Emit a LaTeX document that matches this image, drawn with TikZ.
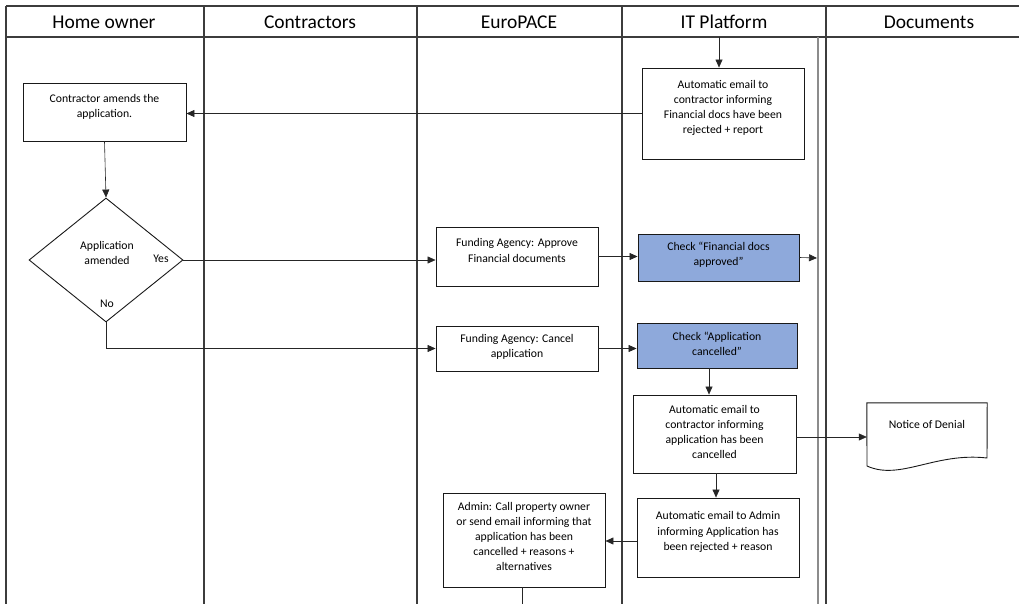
\documentclass[tikz,border=0pt]{standalone}
\usepackage{fontspec}
\setmainfont{Carlito}
\usetikzlibrary{arrows.meta,shapes.geometric}
\definecolor{chkblue}{RGB}{142,169,219}
\definecolor{laneline}{RGB}{60,60,60}

\begin{document}
\begin{tikzpicture}[x=1pt,y=-1pt,
  lane/.style={draw=laneline, line width=1.1pt},
  innerlane/.style={draw=black!45, line width=1.4pt},
  box/.style={draw=black!90, line width=0.9pt, fill=white, inner sep=0pt},
  chk/.style={box, fill=chkblue},
  docshape/.style={draw=black!90, line width=0.9pt},
  txt/.style={font=\fontsize{11.7}{15.2}\selectfont, align=center, inner sep=0pt},
  head/.style={font=\fontsize{19.5}{23}\selectfont, inner sep=0pt},
  conn/.style={draw=black!85, line width=0.6pt},
  arr/.style={conn, -{Triangle[length=8pt,width=7pt]}},
]
\useasboundingbox (0,0) rectangle (1019,604);

% swimlane frame
\draw[lane] (6,6) -- (1019,6);
\draw[lane] (6,37) -- (1019,37);
\foreach \lx in {6,204,417,622,826}
  \draw[lane] (\lx,6) -- (\lx,604);
\draw[innerlane] (818,37) -- (818,604);

% lane headers
\node[head] (hHome) at (104,22) {Home owner};
\node[head] (hCont) at (310,22) {Contractors};
\node[head] (hEuro) at (519,22) {EuroPACE};
\node[head] (hIT)   at (724,22) {IT Platform};
\node[head] (hDoc)  at (929,22) {Documents};

% process boxes
\node[box, minimum width=162pt, minimum height=91pt,
  label={[txt,yshift=5.5pt]center:{Automatic email to\\contractor informing\\Financial docs have been\\rejected + report}}]
  (mail1) at (723,113.5) {};
\node[box, minimum width=163pt, minimum height=58pt,
  label={[txt,yshift=5.5pt]center:{Contractor amends the\\application.}}]
  (amend) at (104.5,112) {};
\node[draw=black!90, line width=0.9pt, diamond, inner sep=0pt,
  minimum width=154pt, minimum height=124pt] (dia) at (106,260) {};
\node[txt] (diaTxt) at (107,253) {Application\\amended};
\node[txt] (yesTxt) at (161,259) {Yes};
\node[txt] (noTxt)  at (107,304) {No};

\node[box, minimum width=162pt, minimum height=59pt,
  label={[txt,yshift=6pt]center:{Funding Agency: Approve\\Financial documents}}]
  (approve) at (517,256.5) {};
\node[chk, minimum width=161pt, minimum height=47pt,
  label={[txt,yshift=2.5pt]center:{Check “Financial docs\\approved”}}]
  (chkfin) at (718.5,257.5) {};
\node[box, minimum width=162pt, minimum height=45pt,
  label={[txt,yshift=1.5pt]center:{Funding Agency: Cancel\\application}}]
  (cancel) at (517,348.5) {};
\node[chk, minimum width=160pt, minimum height=45pt,
  label={[txt,yshift=1.5pt]center:{Check “Application\\cancelled”}}]
  (chkcan) at (717,345.5) {};
\node[box, minimum width=163pt, minimum height=78pt,
  label={[txt,yshift=2pt]center:{Automatic email to\\contractor informing\\application has been\\cancelled}}]
  (mail2) at (714.5,434) {};
\node[box, minimum width=162pt, minimum height=79pt,
  label={[txt,yshift=5.5pt]center:{Automatic email to Admin\\informing Application has\\been rejected + reason}}]
  (mail3) at (718,537.5) {};
\node[box, minimum width=162pt, minimum height=94pt,
  label={[txt,yshift=3.5pt]center:{Admin: Call property owner\\or send email informing that\\application has been\\cancelled + reasons +\\alternatives}}]
  (admin) at (524,540) {};

% document shape with wavy bottom edge
\node[minimum width=120pt, minimum height=63pt, inner sep=0pt,
  label={[txt,yshift=10.5pt]center:{Notice of Denial}}] (denial) at (927,434.5) {};
\draw[docshape] (denial.north west) -- (denial.north east) -- (987,458)
  .. controls (935,452) and (900,481) .. (867,466) -- cycle;

% free connector ends
\coordinate (inTop) at (719,37);
\coordinate (outDocs) at (817,258);
\coordinate (outBottom) at (522,604);

% connectors
\draw[arr] (inTop) -- (inTop |- mail1.north);
\draw[arr] (mail1.west) -- (mail1.west -| amend.east);
\draw[arr] (amend.south) -- (dia.north);
\draw[arr] (dia.east) -- (dia.east -| approve.west);
\draw[arr] (approve.east) -- (approve.east -| chkfin.west);
\draw[arr] (chkfin.east) -- (outDocs);
\draw[arr] (dia.south) |- (cancel.west);
\draw[arr] (cancel.east) -- (cancel.east -| chkcan.west);
\draw[arr] ([xshift=-8pt]chkcan.south) -- ([xshift=-8pt]chkcan.south |- mail2.north);
\draw[arr] ([yshift=-3pt]mail2.east) -- ([yshift=-3pt]mail2.east -| denial.west);
\draw[arr] ([xshift=1.5pt]mail2.south) -- ([xshift=1.5pt]mail2.south |- mail3.north);
\draw[arr] ([yshift=-3.5pt]mail3.west) -- ([yshift=-3.5pt]mail3.west -| admin.east);
\draw[conn] ([xshift=-2pt]admin.south) -- (outBottom);
\end{tikzpicture}
\end{document}
